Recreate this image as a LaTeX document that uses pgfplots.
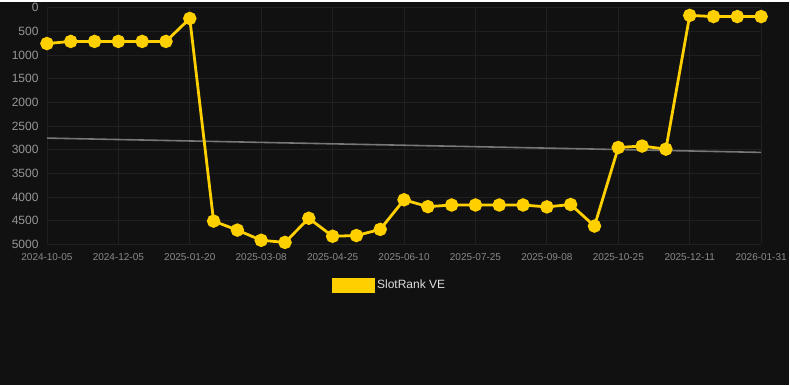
\documentclass[border=0pt]{standalone}
\usepackage{pgfplots}
\pgfplotsset{compat=1.18}
\usepackage{pgfplotstable}
\usepackage{fontspec}
\setmainfont{Liberation Sans}
\definecolor{bg}{HTML}{111111}
\definecolor{gridc}{HTML}{202020}
\definecolor{ylab}{HTML}{969696}
\definecolor{xlab}{HTML}{8A8A8A}
\definecolor{legtext}{HTML}{DDDDDD}
\definecolor{gold}{HTML}{FFD000}
\definecolor{trend}{HTML}{777777}
\pgfplotstableread{
y
760
715
715
715
715
715
230
4510
4700
4915
4960
4450
4830
4815
4685
4060
4205
4170
4170
4170
4170
4210
4160
4615
2955
2925
2990
165
190
190
190
}\rankdata
\pgfplotstableread{
x y
0 2757
10 3059
}\trenddata
\begin{document}
\begin{tikzpicture}
\fill[bg] (0pt,0pt) rectangle (790pt,384pt);
\begin{axis}[
  at={(404.5pt,259.5pt)}, anchor=center,
  scale only axis, width=715pt, height=237pt,
  xmin=0, xmax=10, ymin=0, ymax=5000, y dir=reverse,
  clip=false,
  xtick={0,...,10},
  xticklabels={2024-10-05,2024-12-05,2025-01-20,2025-03-08,2025-04-25,2025-06-10,2025-07-25,2025-09-08,2025-10-25,2025-12-11,2026-01-31},
  ytick={0,500,...,5000},
  /pgf/number format/assume math mode=true,
  /pgf/number format/1000 sep={},
  yticklabel style={font=\fontsize{12}{14}\selectfont, text=ylab, anchor=east, xshift=-5pt},
  xticklabel style={font=\fontsize{10}{12}\selectfont, text=xlab, yshift=-6pt},
  major tick length=0pt,
  grid=major,
  major grid style={draw=gridc, line width=0.8pt},
  axis line style={draw=none},
  legend style={at={(axis description cs:0.48,-0.173)}, anchor=center, draw=none, fill=none, text=legtext, font=\fontsize{12}{14}\selectfont, inner sep=0pt},
  legend cell align=left,
]
\addplot[trend, line width=1.6pt, forget plot] table[x=x,y=y] {\trenddata};
\addplot[gold, line width=2.8pt, mark=*, mark size=5.3pt, mark options={fill=gold, draw=none},
  legend image code/.code={\fill[gold] (0pt,-6pt) rectangle (40pt,6pt);}]
  table[x expr=\coordindex/3, y=y] {\rankdata};
\addlegendentry{SlotRank VE}
\end{axis}
\end{tikzpicture}
\end{document}
